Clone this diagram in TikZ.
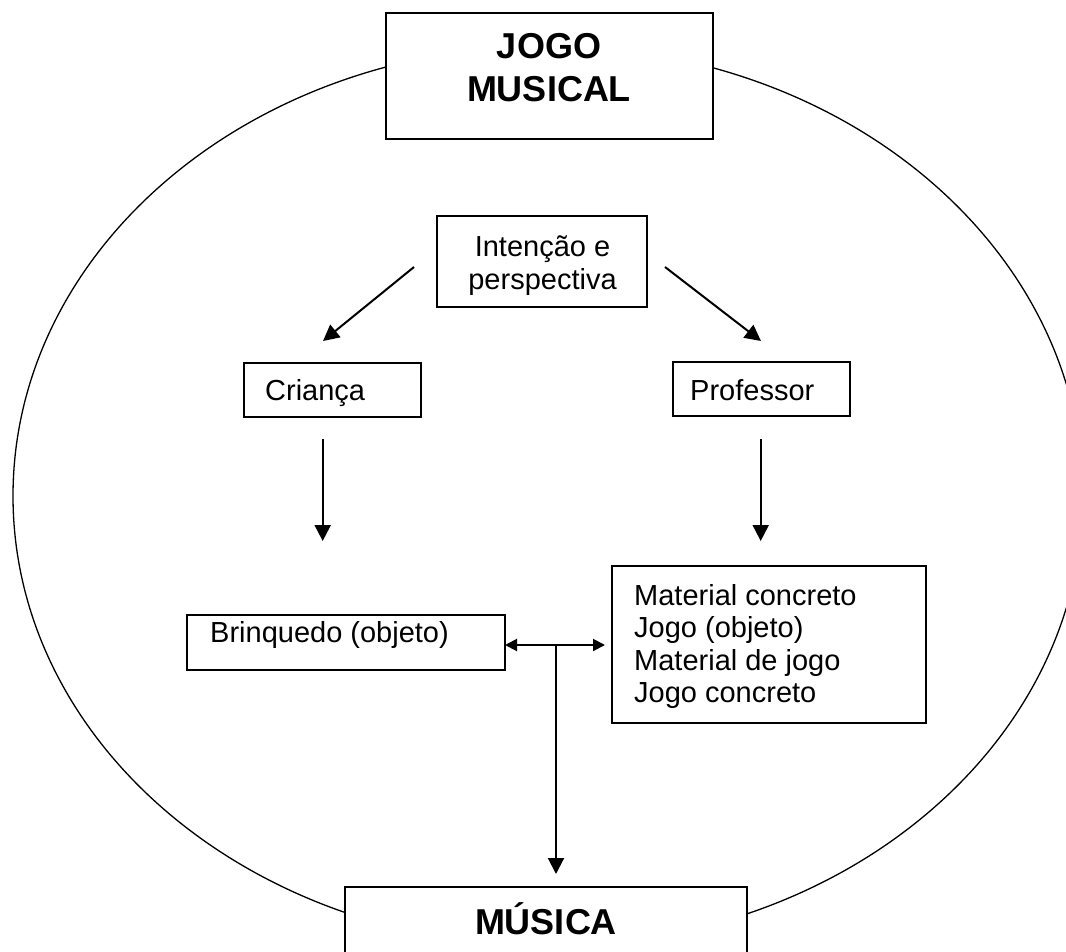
\documentclass[tikz,border=0pt]{standalone}
\usepackage{fontspec}
\setmainfont{Liberation Sans}
\usetikzlibrary{arrows.meta,calc}
\begin{document}
\begin{tikzpicture}[x=1pt,y=-1pt,
  box/.style={draw, line width=1.5pt, fill=white, inner sep=0pt},
  bigtxt/.style={font=\bfseries\fontsize{36}{43}\selectfont, align=center, inner sep=0pt},
  txt/.style={font=\fontsize{29}{33}\selectfont, inner sep=0pt},
  arr/.style={line width=2pt, -{Triangle[length=16pt,width=16pt]}},
  darr/.style={line width=2pt, {Triangle[length=12pt,width=12pt]}-{Triangle[length=12pt,width=12pt]}},
]
\useasboundingbox (0,0) rectangle (1066,951);
\clip (0,0) rectangle (1066,951);
\fill[white] (0,0) rectangle (1066,951);
% big ellipse
\draw[line width=1.3pt] (548,496) ellipse [x radius=535, y radius=450];

% boxes
\node[box, minimum width=327pt, minimum height=126pt] (jogo) at (549.5,76) {};
\node[box, minimum width=210pt, minimum height=91pt] (intencao) at (542,261.5) {};
\node[box, minimum width=177pt, minimum height=54pt] (crianca) at (332.5,390) {};
\node[box, minimum width=177pt, minimum height=54pt] (professor) at (761.5,389) {};
\node[box, minimum width=318pt, minimum height=55pt] (brinquedo) at (346,642.5) {};
\node[box, minimum width=314pt, minimum height=157pt] (material) at (769,644.5) {};
\node[box, minimum width=402pt, minimum height=83pt] (musica) at (546,928.5) {};

% texts
\node[bigtxt, anchor=north] (tjogo) at (549,33.5) {JOGO\\MUSICAL};
\node[txt, align=center, anchor=north] (tintencao) at (542.5,235) {Intenção e\\perspectiva};
\node[txt, anchor=base west] (tcrianca) at (265,400) {Criança};
\node[txt, anchor=base west] (tprofessor) at (690,400) {Professor};
\node[txt, anchor=base west] (tbrinquedo) at (210,642) {Brinquedo (objeto)};
\node[txt, align=left, anchor=north west, font=\fontsize{29}{32.3}\selectfont] (tmaterial) at (634,584.2)
  {Material concreto\\Jogo (objeto)\\Material de jogo\\Jogo concreto};
\node[bigtxt, anchor=base] (tmusica) at (546,934) {MÚSICA};

% connector end points
\coordinate (a1s) at (414,267);
\coordinate (a1e) at (323,341);
\coordinate (a2s) at (665,267);
\coordinate (a2e) at (761,341);
\coordinate (a3s) at (322.7,439);
\coordinate (a3e) at (322.7,541);
\coordinate (a4s) at (760.7,439);
\coordinate (a4e) at (760.7,541);
\coordinate (dl) at (505,645);
\coordinate (dr) at (605,645);
\coordinate (junc) at (556,645);
\coordinate (a6e) at (556,874);

\draw[arr] (a1s) -- (a1e);
\draw[arr] (a2s) -- (a2e);
\draw[arr] (a3s) -- (a3e);
\draw[arr] (a4s) -- (a4e);
\draw[darr] (dl) -- (dr);
\draw[arr] (junc) -- (a6e);
\end{tikzpicture}
\end{document}
